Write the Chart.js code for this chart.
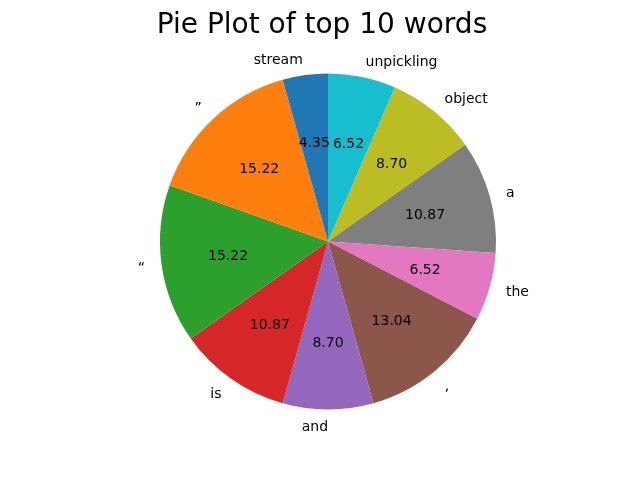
<!DOCTYPE html>
<html>
<head>
<meta charset="utf-8">
<script src="https://cdn.jsdelivr.net/npm/chart.js@4"></script>
<style>
html,body{margin:0;padding:0;background:#fff;}
#wrap{width:640px;height:480px;position:relative;}
</style>
</head>
<body>
<div id="wrap"><canvas id="c" width="640" height="480"></canvas></div>
<script>
// Data in matplotlib (counter-clockwise from top) order
const words = ["stream", "\u201D", "\u201C", "is", "and", ",", "the", "a", "object", "unpickling"];
const percents = [4.35, 15.22, 15.22, 10.87, 8.70, 13.04, 6.52, 10.87, 8.70, 6.52];
const colors = ["#1f77b4", "#ff7f0e", "#2ca02c", "#d62728", "#9467bd", "#8c564b", "#e377c2", "#7f7f7f", "#bcbd22", "#17becf"];
const titleText = "Pie Plot of top 10 words";

// Chart.js draws clockwise; reverse so the layout matches the counter-clockwise reference
const labelsCW = words.slice().reverse();
const valuesCW = percents.slice().reverse();
const colorsCW = colors.slice().reverse();

const FONT = "'DejaVu Sans', sans-serif";

const labelPlugin = {
  id: 'pieLabels',
  afterDatasetsDraw(chart) {
    const ctx = chart.ctx;
    const meta = chart.getDatasetMeta(0);
    ctx.save();
    ctx.fillStyle = '#000';
    const dy = 1.5;
    meta.data.forEach((arc, i) => {
      const p = arc.getProps(['x', 'y', 'startAngle', 'endAngle', 'outerRadius'], true);
      const mid = (p.startAngle + p.endAngle) / 2;
      const cx = Math.cos(mid), sy = Math.sin(mid);
      // percentage
      ctx.font = "14px " + FONT;
      ctx.textAlign = 'center';
      ctx.textBaseline = 'middle';
      const pr = p.outerRadius * 0.6;
      ctx.fillText(valuesCW[i].toFixed(2), p.x + pr * cx, p.y + pr * sy + dy);
      // outer label
      const lr = p.outerRadius * 1.1;
      const lx = p.x + lr * cx, ly = p.y + lr * sy;
      ctx.textAlign = cx > 1e-3 ? 'left' : 'right';
      ctx.fillText(labelsCW[i], lx, ly + dy);
    });
    // title
    ctx.font = "28px " + FONT;
    ctx.textAlign = 'center';
    ctx.textBaseline = 'alphabetic';
    ctx.fillText(titleText, 322, 33);
    ctx.restore();
  }
};

new Chart(document.getElementById('c'), {
  type: 'pie',
  data: {
    labels: labelsCW,
    datasets: [{
      data: valuesCW,
      backgroundColor: colorsCW,
      borderWidth: 0,
      hoverOffset: 0
    }]
  },
  options: {
    responsive: false,
    animation: false,
    rotation: 0,
    layout: { padding: { left: 160, right: 144, top: 73, bottom: 70 } },
    plugins: {
      legend: { display: false },
      title: { display: false },
      tooltip: { enabled: false }
    },
    events: []
  },
  plugins: [labelPlugin]
});
</script>
</body>
</html>
